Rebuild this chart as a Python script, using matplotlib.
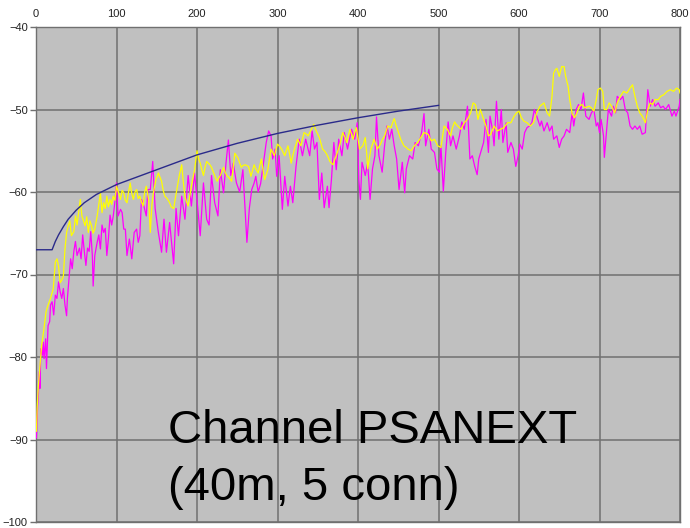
import matplotlib.pyplot as plt

plt.rcParams["font.family"] = ["Liberation Sans", "DejaVu Sans"]

BG = "#c0c0c0"
GRID = "#707070"

# PSANEXT limit line (dB vs MHz), stops at 500 MHz
limit_freq = [0, 20, 24, 28, 34, 40, 50, 60, 75, 100, 125, 150, 175, 200,
              225, 250, 300, 350, 400, 450, 500]
limit_db = [-67.0, -67.0, -66.0, -65.2, -64.2, -63.3, -62.2, -61.3, -60.3,
            -59.1, -58.2, -57.3, -56.4, -55.5, -54.8, -54.1, -52.9, -51.9,
            -51.0, -50.2, -49.5]

# measured pair, magenta trace
mag_freq = [0.5, 1, 2, 3, 4, 5, 6, 8, 9, 10, 12, 13, 15, 17, 18, 20, 22, 24,
            26, 28, 30, 32, 34, 36, 38, 39, 41, 43, 45, 47, 49, 51, 54, 56,
            58, 60, 62, 64, 66, 68, 70, 71, 73, 76, 78, 80, 82, 84, 86, 88,
            90, 92, 94, 96, 98, 100, 102, 105, 107, 109, 111, 113, 116, 119,
            122, 125, 127, 129, 131, 134, 137, 139, 142, 145, 148, 152, 156,
            159, 162, 166, 171, 174, 177, 181, 185, 189, 193, 197, 200, 204,
            208, 212, 215, 218, 222, 226, 229, 233, 236, 239, 242, 245, 249,
            253, 257, 262, 265, 268, 271, 273, 276, 279, 282, 286, 289, 292,
            294, 297, 299, 302, 306, 309, 313, 316, 319, 323, 327, 331, 335,
            340, 343, 346, 349, 352, 355, 358, 362, 364, 367, 370, 373, 376,
            380, 383, 387, 392, 396, 399, 401, 403, 405, 409, 412, 415, 418,
            421, 423, 426, 430, 433, 436, 439, 442, 445, 448, 451, 455, 458,
            460, 464, 468, 471, 475, 479, 482, 484, 488, 491, 495, 498, 501,
            503, 506, 509, 512, 515, 518, 522, 526, 529, 532, 536, 538, 539,
            542, 545, 548, 550, 553, 556, 559, 562, 564, 567, 569, 572, 575,
            578, 580, 584, 586, 590, 593, 596, 599, 601, 604, 607, 610, 613,
            616, 619, 622, 626, 628, 631, 635, 638, 641, 643, 647, 650, 653,
            656, 659, 663, 666, 668, 671, 674, 677, 680, 683, 687, 690, 693,
            696, 698, 700, 702, 705, 706, 709, 711, 715, 717, 720, 722, 726,
            729, 732, 735, 738, 741, 744, 747, 750, 753, 757, 760, 763, 766,
            769, 773, 776, 779, 782, 786, 790, 793, 795, 799, 800]
mag_db = [-89.8, -88.5, -86.0, -84.5, -81.8, -83.8, -79.0, -79.8, -78.2,
          -80.2, -77.8, -81.4, -76.2, -75.7, -73.7, -73.3, -74.9, -72.5,
          -72.9, -70.9, -72.1, -72.9, -71.7, -73.7, -75.0, -72.9, -70.5,
          -68.1, -69.3, -67.2, -66.0, -67.7, -66.8, -68.1, -65.2, -67.2,
          -68.9, -66.8, -67.2, -64.8, -67.7, -71.4, -67.7, -66.1, -65.2,
          -66.9, -64.0, -64.9, -64.4, -67.7, -65.6, -62.8, -64.0, -62.9,
          -61.2, -58.9, -62.9, -62.1, -62.5, -64.5, -64.5, -67.7, -65.7,
          -68.1, -64.9, -64.5, -66.1, -65.3, -60.9, -61.7, -62.9, -59.7,
          -59.7, -56.3, -62.0, -64.9, -67.3, -63.3, -67.3, -63.7, -68.7,
          -62.0, -65.3, -60.5, -63.3, -58.0, -61.7, -57.7, -60.9, -65.3,
          -58.9, -63.3, -64.0, -58.0, -61.3, -62.9, -57.3, -60.1, -56.5,
          -53.7, -58.0, -56.5, -58.9, -60.0, -57.3, -66.1, -62.0, -59.7,
          -58.9, -58.1, -60.0, -59.0, -56.9, -54.0, -52.6, -53.2, -56.0,
          -54.8, -58.1, -55.6, -62.1, -58.1, -61.7, -59.3, -61.3, -56.9,
          -53.6, -55.6, -53.6, -55.6, -52.6, -54.8, -54.0, -60.9, -57.7,
          -61.9, -59.3, -61.9, -58.5, -54.0, -57.3, -53.6, -55.6, -52.8,
          -54.8, -52.4, -53.6, -51.6, -58.5, -60.9, -56.4, -58.0, -56.5,
          -60.9, -57.2, -55.6, -50.9, -55.6, -57.6, -54.4, -52.0, -53.6,
          -52.4, -54.4, -56.0, -59.7, -56.4, -60.1, -57.2, -55.6, -56.0,
          -54.0, -54.4, -52.8, -50.5, -54.4, -52.4, -54.8, -55.2, -57.2,
          -57.6, -54.4, -59.9, -55.2, -51.5, -54.4, -53.2, -54.8, -53.2,
          -51.5, -52.4, -49.6, -54.0, -56.0, -55.6, -56.9, -57.9, -56.0,
          -55.0, -54.0, -51.2, -55.2, -50.8, -52.4, -54.4, -49.0, -53.6,
          -50.0, -54.0, -51.6, -55.2, -54.0, -54.8, -56.9, -55.6, -54.2,
          -54.8, -52.8, -52.2, -52.0, -51.6, -50.0, -50.8, -52.0, -51.4,
          -52.6, -51.6, -52.6, -52.0, -53.6, -53.2, -54.6, -53.6, -53.2,
          -52.4, -52.8, -50.4, -52.0, -50.0, -49.4, -50.0, -48.0, -50.8,
          -51.2, -50.4, -50.0, -52.0, -51.6, -52.8, -51.2, -53.2, -55.8,
          -52.4, -50.0, -50.8, -49.6, -50.4, -48.4, -48.8, -48.4, -50.0,
          -50.4, -52.0, -52.4, -52.0, -52.4, -52.0, -53.0, -52.8, -47.6,
          -49.6, -48.8, -49.6, -49.2, -49.8, -49.6, -50.0, -49.4, -50.8,
          -50.2, -50.8, -49.6, -48.8]

# measured pair, yellow trace
yel_freq = [0.5, 1.5, 3, 5, 7, 10, 12.5, 15, 18, 21.5, 24, 26, 28, 30, 32,
            34, 36, 38, 40, 42, 44, 47, 49, 51, 53, 55, 57, 59, 61, 63, 65,
            67, 69, 71, 73, 76, 78, 80, 82, 84, 86, 88, 90, 92, 94, 96, 98,
            100, 103, 105, 107, 109, 111, 113, 115, 117, 119, 121, 123, 125,
            127, 129, 131, 133, 135, 137, 140, 142, 144, 146, 149, 152, 154,
            156, 158, 160, 163, 166, 168, 171, 173, 175, 178, 181, 183, 185,
            187, 189, 191, 193, 195, 197, 200, 202, 204, 206, 208, 210, 212,
            214, 216, 218, 220, 222, 225, 227, 229, 231, 233, 235, 237, 240,
            243, 245, 247, 249, 251, 253, 255, 257, 260, 262, 264, 267, 269,
            271, 273, 276, 278, 280, 282, 284, 286, 288, 290, 292, 294, 296,
            298, 300, 303, 305, 307, 309, 311, 313, 315, 317, 319, 321, 323,
            325, 327, 329, 331, 333, 336, 338, 340, 342, 345, 348, 350, 352,
            354, 356, 359, 361, 363, 365, 367, 369, 371, 373, 375, 377, 379,
            381, 384, 386, 388, 390, 392, 394, 396, 398, 400, 402, 404, 406,
            409, 411, 412, 414, 416, 418, 420, 422, 424, 426, 428, 430, 433,
            435, 437, 439, 441, 443, 445, 447, 449, 451, 453, 455, 457, 460,
            462, 464, 466, 468, 470, 472, 474, 476, 478, 480, 482, 485, 487,
            489, 491, 493, 495, 497, 499, 501, 503, 505, 507, 509, 511, 513,
            515, 517, 520, 522, 524, 526, 528, 530, 532, 534, 536, 538, 540,
            543, 546, 549, 552, 556, 559, 562, 565, 569, 573, 577, 581, 586,
            590, 594, 597, 600, 603, 606, 610, 614, 618, 622, 626, 631, 635,
            638, 641, 643, 645, 647, 650, 653, 656, 658, 661, 663, 666, 669,
            672, 675, 678, 682, 687, 690, 693, 696, 698, 701, 704, 706, 709,
            712, 715, 719, 722, 726, 730, 734, 738, 741, 744, 747, 750, 753,
            757, 760, 763, 766, 769, 773, 776, 780, 784, 788, 792, 796, 799,
            800]
yel_db = [-89.0, -86.0, -83.4, -81.0, -78.6, -76.5, -74.5, -73.7, -72.9,
          -71.7, -68.5, -68.1, -69.0, -71.0, -70.7, -70.2, -66.9, -64.9,
          -64.1, -63.5, -65.3, -64.8, -62.9, -64.0, -62.5, -60.9, -62.9,
          -63.5, -64.1, -63.0, -64.9, -63.5, -64.1, -65.0, -64.5, -62.9,
          -61.5, -60.1, -62.5, -61.3, -62.0, -60.5, -61.8, -60.9, -61.5,
          -60.5, -61.0, -59.3, -60.2, -60.9, -59.8, -60.1, -61.0, -61.3,
          -60.0, -58.9, -60.2, -60.9, -60.0, -59.7, -60.8, -60.5, -61.2,
          -61.7, -60.0, -59.3, -61.0, -64.9, -61.5, -60.0, -58.5, -57.7,
          -58.2, -58.7, -59.8, -60.5, -60.8, -61.3, -61.8, -62.0, -60.8,
          -59.7, -58.0, -56.7, -58.8, -60.5, -61.2, -61.7, -60.5, -59.3,
          -58.3, -57.3, -55.0, -56.0, -56.5, -57.3, -58.0, -57.0, -56.3,
          -56.5, -56.7, -57.0, -57.5, -58.0, -58.7, -58.3, -58.0, -57.5,
          -57.0, -57.6, -58.0, -58.3, -58.7, -57.0, -55.3, -55.6, -55.9,
          -56.5, -57.0, -56.8, -56.7, -56.8, -56.9, -58.1, -57.4, -56.7,
          -57.2, -57.7, -56.8, -56.0, -57.3, -58.5, -57.9, -57.3, -56.0,
          -54.8, -55.2, -55.6, -54.9, -54.2, -54.5, -54.8, -55.2, -55.6,
          -55.0, -54.4, -55.4, -56.5, -55.6, -54.8, -54.2, -53.6, -54.0,
          -54.4, -53.6, -52.8, -53.0, -53.2, -52.8, -52.4, -51.8, -52.6,
          -53.0, -53.4, -54.1, -54.8, -55.1, -55.4, -55.8, -56.3, -56.5,
          -56.7, -56.1, -55.6, -55.0, -54.4, -53.6, -52.8, -53.4, -54.0,
          -53.2, -52.4, -53.0, -53.6, -52.8, -52.2, -53.5, -54.8, -54.6,
          -54.4, -53.4, -55.5, -57.2, -56.0, -54.8, -54.2, -53.6, -54.2,
          -54.8, -54.5, -54.2, -53.7, -53.2, -52.6, -52.0, -52.1, -52.2,
          -51.6, -51.1, -51.8, -52.4, -53.0, -53.6, -54.0, -54.4, -54.6,
          -54.8, -54.9, -55.0, -54.7, -54.4, -54.2, -54.0, -53.7, -53.4,
          -53.1, -52.8, -52.9, -53.0, -53.4, -53.8, -53.7, -53.6, -54.0,
          -54.4, -54.5, -54.6, -53.3, -52.0, -52.2, -52.4, -52.8, -53.2,
          -52.3, -51.5, -51.8, -52.0, -52.2, -52.4, -52.0, -51.6, -51.4,
          -51.2, -50.8, -50.4, -49.2, -49.4, -51.2, -50.0, -51.2, -52.0,
          -53.2, -53.0, -52.0, -52.6, -52.4, -52.2, -51.6, -51.6, -50.8,
          -50.4, -50.2, -51.0, -51.4, -51.6, -52.0, -51.6, -50.4, -49.6,
          -49.2, -50.4, -50.8, -48.4, -45.6, -45.2, -45.0, -46.0, -44.8,
          -44.8, -46.0, -47.2, -48.8, -50.5, -51.0, -50.4, -49.6, -49.4,
          -49.8, -49.6, -49.8, -50.2, -48.8, -47.6, -47.4, -47.8, -50.0,
          -50.0, -49.2, -49.6, -50.4, -49.2, -48.4, -47.8, -48.0, -47.4,
          -47.0, -48.4, -49.6, -50.4, -50.8, -51.6, -50.0, -49.2, -49.4,
          -48.8, -48.8, -48.4, -48.2, -47.8, -47.6, -47.8, -47.4, -47.6,
          -48.0]

x_ticks = [0, 100, 200, 300, 400, 500, 600, 700, 800]
y_ticks = [-100, -90, -80, -70, -60, -50, -40]
caption = ["Channel PSANEXT", "(40m, 5 conn)"]

fig = plt.figure(figsize=(6.9, 5.28), dpi=100)
ax = fig.add_axes([36 / 690, 6 / 528, 644 / 690, 495 / 528])
ax.set_facecolor(BG)

ax.plot(mag_freq, mag_db, color="#ff00ff", lw=0.9, zorder=3)
ax.plot(yel_freq, yel_db, color="#ffff00", lw=0.9, zorder=4)
ax.plot(limit_freq, limit_db, color="#2a2a8a", lw=1.0, zorder=5)

ax.set_xlim(0, 800)
ax.set_ylim(-100, -40)
ax.set_xticks(x_ticks)
ax.set_yticks(y_ticks)
ax.xaxis.tick_top()
ax.tick_params(axis="x", length=0, pad=6, labelsize=8, colors="#222222")
ax.tick_params(axis="y", length=4, width=1, color=GRID, pad=2,
               labelsize=8, labelcolor="#222222")
ax.grid(True, color=GRID, lw=1.1)
ax.set_axisbelow(True)
for side in ax.spines.values():
    side.set_color(GRID)
    side.set_linewidth(1.0)

ax.text(0.205, 0.159, caption[0], transform=ax.transAxes, fontsize=34,
        va="baseline", ha="left", color="black", zorder=6)
ax.text(0.205, 0.044, caption[1], transform=ax.transAxes, fontsize=34,
        va="baseline", ha="left", color="black", zorder=6)

fig.savefig("out.png", dpi=100, facecolor="white")
